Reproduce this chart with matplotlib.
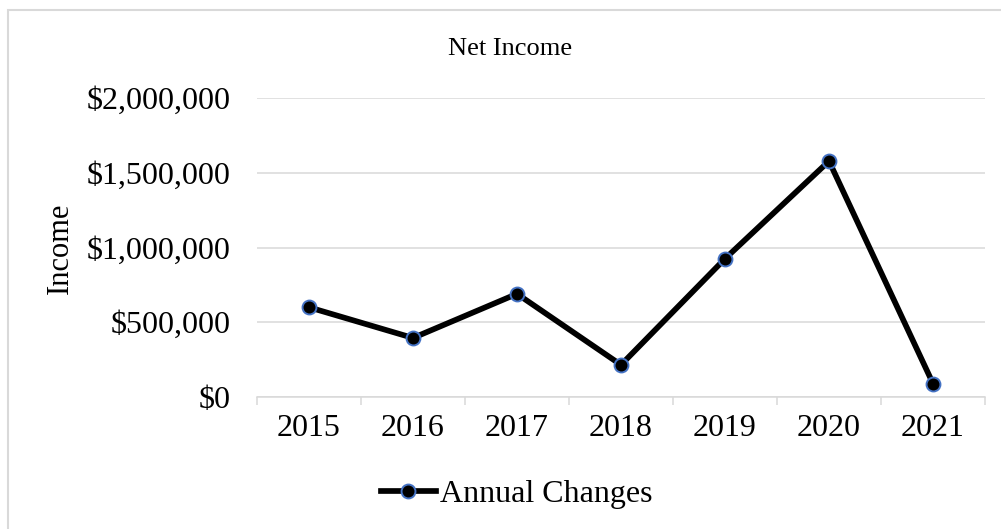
import matplotlib
matplotlib.use("Agg")
import matplotlib.pyplot as plt
from matplotlib.patches import Rectangle
from matplotlib.ticker import FuncFormatter, FixedLocator

years = ["2015", "2016", "2017", "2018", "2019", "2020", "2021"]
net_income = [600000, 395000, 690000, 215000, 925000, 1578000, 90000]
y_ticks = [0, 500000, 1000000, 1500000, 2000000]

plt.rcParams['font.family'] = ['Liberation Serif', 'DejaVu Serif']

W, H = 1001, 529
fig = plt.figure(figsize=(W / 100, H / 100), dpi=100)
grey = '#d9d9d9'

# outer chart border (right/bottom edges cropped off in the reference)
fig.patches.append(Rectangle((8 / W, -0.05), 1.2, 1 - 10 / H + 0.05,
                             transform=fig.transFigure, fill=False,
                             edgecolor=grey, linewidth=1.5))

ax = fig.add_axes([257 / W, 1 - 397 / H, (985 - 257) / W, (397 - 98) / H])
x = list(range(len(years)))
ax.plot(x, net_income, color='black', linewidth=4.1, marker='o',
        markersize=10, markerfacecolor='black', markeredgecolor='#4472C4',
        markeredgewidth=1.4, label='Annual Changes', zorder=3)

ax.set_xlim(-0.5, len(years) - 0.5)
ax.set_ylim(0, 2000000)
ax.set_yticks(y_ticks)
ax.yaxis.set_major_formatter(FuncFormatter(lambda v, p: '${:,.0f}'.format(v)))
ax.set_xticks(x)
ax.set_xticklabels(years)
ax.xaxis.set_minor_locator(FixedLocator([i - 0.5 for i in range(len(years) + 1)]))

ax.tick_params(axis='y', length=0, pad=19, labelsize=23)
ax.tick_params(axis='x', which='major', length=0, pad=12, labelsize=23)
ax.tick_params(axis='x', which='minor', length=6, width=1.1, color=grey)

ax.grid(axis='y', color=grey, linewidth=1.1)
ax.set_axisbelow(True)
for s in ['top', 'right', 'left']:
    ax.spines[s].set_visible(False)
ax.spines['bottom'].set_color(grey)
ax.spines['bottom'].set_linewidth(1.1)

fig.text(510 / W, 1 - 49 / H, 'Net Income', ha='center', va='center', fontsize=19)
fig.text(60 / W, 1 - 248 / H, 'Income', ha='center', va='center',
         rotation=90, fontsize=22)

fig.legend(loc='center', bbox_to_anchor=(517 / W, 1 - 494 / H), frameon=False,
           fontsize=23, handlelength=1.7, handletextpad=0.15)

fig.savefig('out.png', dpi=100)
